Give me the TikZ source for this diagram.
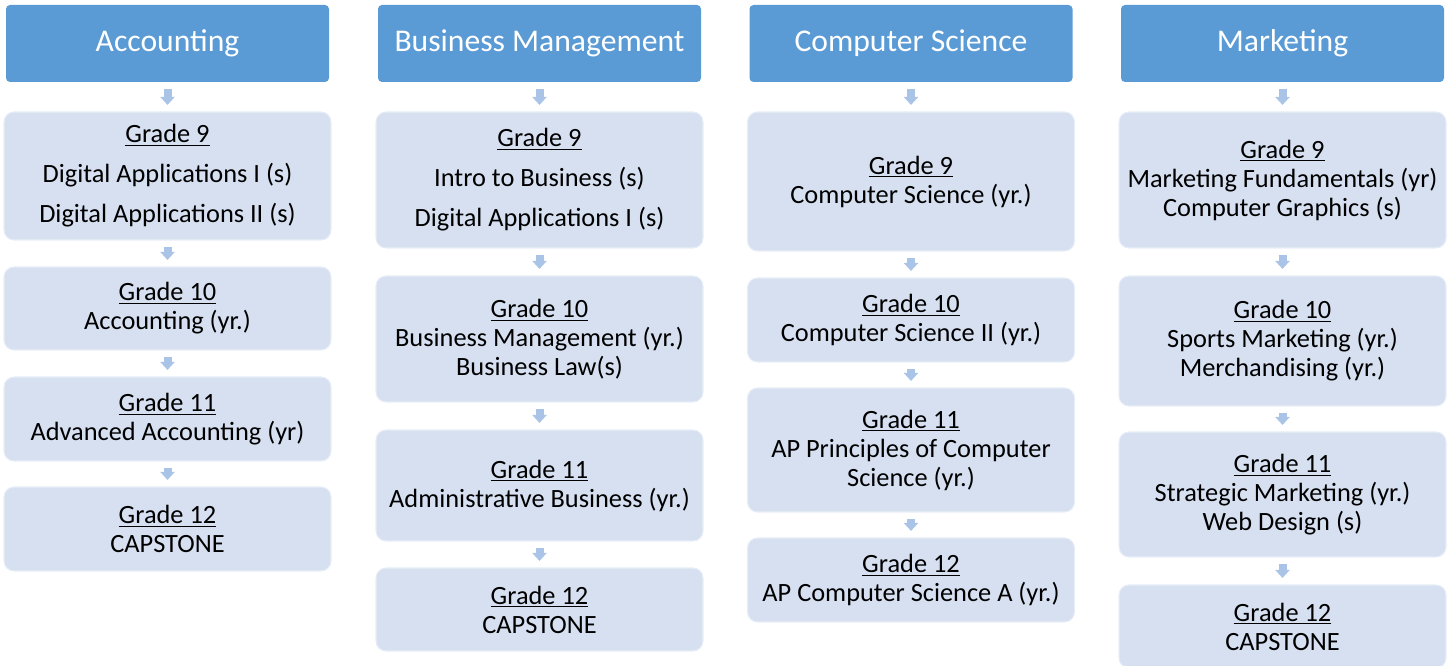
\documentclass[tikz,border=0pt]{standalone}
\usepackage{fontspec}
\setmainfont{Carlito}
\usetikzlibrary{arrows.meta}
\definecolor{headblue}{HTML}{5B9BD5}
\definecolor{boxblue}{HTML}{D6E0F1}
\definecolor{arrblue}{HTML}{A9C4E6}
\tikzset{
    head/.style={fill=headblue,rounded corners=0.08cm,minimum width=6.46cm,minimum height=1.54cm,
        text=white,font=\fontsize{18}{22}\selectfont},
    course/.style={fill=boxblue,draw=boxblue!55!white,line width=0.6pt,rounded corners=0.2cm,
        minimum width=6.54cm,align=center,font=\fontsize{15}{16.5}\selectfont},
    flow/.style={draw=arrblue,line width=0.16cm,-{Triangle[width=0.28cm,length=0.16cm]},
        shorten <=0.13cm,shorten >=0.13cm}
}
\newcommand{\gr}[1]{\underline{Grade #1}}
\begin{document}
\begin{tikzpicture}
            \useasboundingbox (0,0) rectangle (29,-13.32);
            % Accounting
            \node[head] at (3.35,-0.87) (acc) {Accounting};
            \node[course,minimum height=2.56cm] at (3.35,-3.52) (acc9) {\gr{9}\\[6.3pt] Digital Applications I (s)\\[6.3pt] Digital Applications II (s)};
            \node[course,minimum height=1.66cm] at (3.35,-6.17) (acc10) {\gr{10}\\ Accounting (yr.)};
            \node[course,minimum height=1.68cm] at (3.35,-8.38) (acc11) {\gr{11}\\ Advanced Accounting (yr)};
            \node[course,minimum height=1.68cm] at (3.35,-10.58) (acc12) {\gr{12}\\ CAPSTONE};
            % Business Management
            \node[head] at (10.79,-0.87) (bus) {Business Management};
            \node[course,minimum height=2.72cm] at (10.79,-3.6) (bus9) {\gr{9}\\[6.3pt] Intro to Business (s)\\[6.3pt] Digital Applications I (s)};
            \node[course,minimum height=2.52cm] at (10.79,-6.78) (bus10) {\gr{10}\\ Business Management (yr.)\\ Business Law(s)};
            \node[course,minimum height=2.22cm] at (10.79,-9.71) (bus11) {\gr{11}\\ Administrative Business (yr.)};
            \node[course,minimum height=1.66cm] at (10.79,-12.19) (bus12) {\gr{12}\\ CAPSTONE};
            % Computer Science
            \node[head] at (18.22,-0.87) (cs) {Computer Science};
            \node[course,minimum height=2.78cm] at (18.22,-3.63) (cs9) {\gr{9}\\ Computer Science (yr.)};
            \node[course,minimum height=1.68cm] at (18.22,-6.4) (cs10) {\gr{10}\\ Computer Science II (yr.)};
            \node[course,minimum height=2.48cm] at (18.22,-9.0) (cs11) {\gr{11}\\ AP Principles of Computer\\ Science (yr.)};
            \node[course,minimum height=1.68cm] at (18.22,-11.6) (cs12) {\gr{12}\\ AP Computer Science A (yr.)};
            % Marketing
            \node[head] at (25.65,-0.87) (mkt) {Marketing};
            \node[course,minimum height=2.72cm] at (25.65,-3.6) (mkt9) {\gr{9}\\ Marketing Fundamentals (yr)\\ Computer Graphics (s)};
            \node[course,minimum height=2.6cm] at (25.65,-6.82) (mkt10) {\gr{10}\\ Sports Marketing (yr.)\\ Merchandising (yr.)};
            \node[course,minimum height=2.5cm] at (25.65,-9.89) (mkt11) {\gr{11}\\ Strategic Marketing (yr.)\\ Web Design (s)};
            \node[course,minimum height=1.66cm] at (25.65,-12.53) (mkt12) {\gr{12}\\ CAPSTONE};
            \draw[flow] (acc) to (acc9);
            \draw[flow] (acc9) to (acc10);
            \draw[flow] (acc10) to (acc11);
            \draw[flow] (acc11) to (acc12);
            \draw[flow] (bus) to (bus9);
            \draw[flow] (bus9) to (bus10);
            \draw[flow] (bus10) to (bus11);
            \draw[flow] (bus11) to (bus12);
            \draw[flow] (cs) to (cs9);
            \draw[flow] (cs9) to (cs10);
            \draw[flow] (cs10) to (cs11);
            \draw[flow] (cs11) to (cs12);
            \draw[flow] (mkt) to (mkt9);
            \draw[flow] (mkt9) to (mkt10);
            \draw[flow] (mkt10) to (mkt11);
            \draw[flow] (mkt11) to (mkt12);
        \end{tikzpicture}
\end{document}
